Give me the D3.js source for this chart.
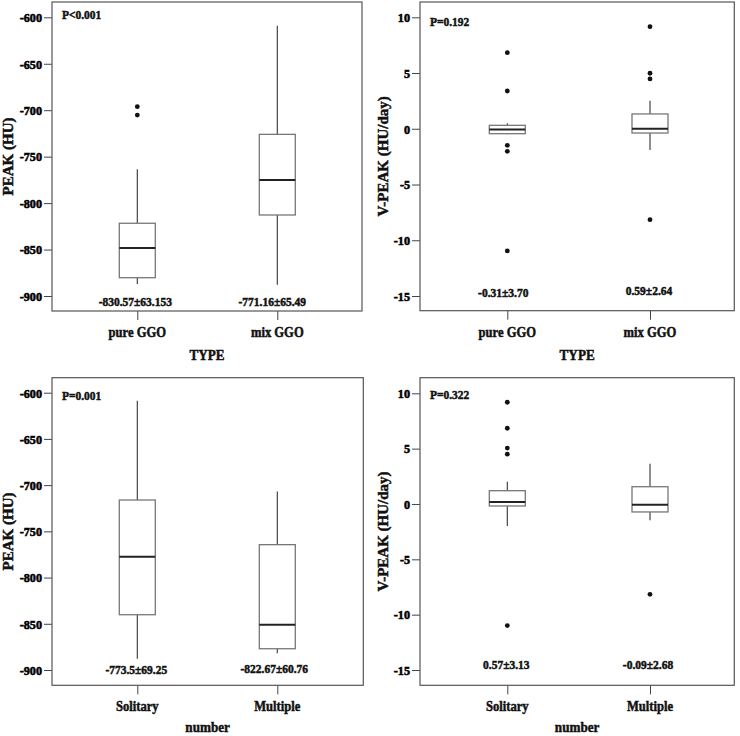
<!DOCTYPE html>
<html>
<head>
<meta charset="utf-8">
<script src="https://cdn.jsdelivr.net/npm/d3@7"></script>
<style>
  html, body { margin: 0; padding: 0; background: #fff; }
  svg text { font-family: "Liberation Serif", "Times New Roman", serif; font-weight: bold; fill: #111; stroke: #111; stroke-width: 0.5px; }
  svg .tick text { fill: #000 !important; stroke: #000; stroke-width: 0.6px; font-weight: bold; }
</style>
</head>
<body>
<svg id="chart" width="740" height="736"></svg>
<script>
// ---------- DATA ----------
const typeCategories = ["pure GGO", "mix GGO"];
const numberCategories = ["Solitary", "Multiple"];

const peakTicks = [-600, -650, -700, -750, -800, -850, -900];
const vpeakTicks = [10, 5, 0, -5, -10, -15];

// box stats: [lowWhisker, q1, median, q3, highWhisker]
const peakByTypeStats = [
  [-887, -880.3, -848.3, -821.7, -763.6],
  [-888, -812.8, -775, -726, -609]
];
const peakByTypeOutliers = [[-696.2, -705.2], []];
const peakByTypeLabels = ["-830.57±63.153", "-771.16±65.49"];

const vpeakByTypeStats = [
  [-0.5, -0.44, -0.06, 0.31, 0.49],
  [-1.9, -0.38, 0.01, 1.33, 2.52]
];
const vpeakByTypeOutliers = [[6.83, 3.39, -1.48, -2.02, -10.96], [9.16, 4.98, 4.47, -8.15]];
const vpeakByTypeLabels = ["-0.31±3.70", "0.59±2.64"];

const peakByNumberStats = [
  [-887.8, -840.2, -777.4, -716.1, -608.7],
  [-881.9, -877, -851, -764.4, -707]
];
const peakByNumberOutliers = [[], []];
const peakByNumberLabels = ["-773.5±69.25", "-822.67±60.76"];

const vpeakByNumberStats = [
  [-1.99, -0.18, 0.18, 1.2, 2.01],
  [-1.47, -0.72, -0.07, 1.56, 3.64]
];
const vpeakByNumberOutliers = [[9.19, 6.84, 5.05, 4.5, -10.99], [-8.16]];
const vpeakByNumberLabels = ["0.57±3.13", "-0.09±2.68"];

const pValues = ["P<0.001", "P=0.192", "P=0.001", "P=0.322"];

// ---------- LAYOUT ----------
const panels = [
  { ox: 0, oy: 0, fx0: 52, fx1: 362, fy0: 2, fy1: 311, yTop: 17.3, yBot: 296, c0: 137.3, c1: 277.3,
    domain: [-900, -600], ticks: peakTicks, cats: typeCategories, stats: peakByTypeStats, outl: peakByTypeOutliers,
    labels: peakByTypeLabels, p: pValues[0], yTitle: "PEAK (HU)", xTitle: "TYPE",
    pY: 19, annY: [306, 306], annDx: [-2, -5], xlabY: 336.5, xTitleY: 360, yTitleX: 13 },
  { ox: 370, oy: 0, fx0: 50, fx1: 364.3, fy0: 2, fy1: 310.7, yTop: 17.3, yBot: 296, c0: 137.3, c1: 280,
    domain: [-15, 10], ticks: vpeakTicks, cats: typeCategories, stats: vpeakByTypeStats, outl: vpeakByTypeOutliers,
    labels: vpeakByTypeLabels, p: pValues[1], yTitle: "V-PEAK (HU/day)", xTitle: "TYPE",
    pY: 26, annY: [297, 295], annDx: [-4, -1], xlabY: 336.5, xTitleY: 360, yTitleX: 18 },
  { ox: 0, oy: 366, fx0: 52, fx1: 363.3, fy0: 11.7, fy1: 319.3, yTop: 26.7, yBot: 304, c0: 137.3, c1: 277.3,
    domain: [-900, -600], ticks: peakTicks, cats: numberCategories, stats: peakByNumberStats, outl: peakByNumberOutliers,
    labels: peakByNumberLabels, p: pValues[2], yTitle: "PEAK (HU)", xTitle: "number",
    pY: 33.5, annY: [308, 306.5], annDx: [-1, -3], xlabY: 345, xTitleY: 366, yTitleX: 13 },
  { ox: 370, oy: 366, fx0: 50, fx1: 364.3, fy0: 11.7, fy1: 319.3, yTop: 27.3, yBot: 304, c0: 137.3, c1: 280,
    domain: [-15, 10], ticks: vpeakTicks, cats: numberCategories, stats: vpeakByNumberStats, outl: vpeakByNumberOutliers,
    labels: vpeakByNumberLabels, p: pValues[3], yTitle: "V-PEAK (HU/day)", xTitle: "number",
    pY: 32.5, annY: [303, 303], annDx: [-1, -2], xlabY: 345, xTitleY: 366, yTitleX: 18 }
];

const svg = d3.select("#chart");
const boxW = 36;

function addText(g, x, y, str, size, anchor, sx) {
  return g.append("text")
    .attr("transform", `translate(${x},${y}) scale(${sx},1)`)
    .attr("text-anchor", anchor).attr("font-size", size).text(str);
}

panels.forEach(P => {
  const g = svg.append("g").attr("transform", `translate(${P.ox},${P.oy})`);
  const y = d3.scaleLinear().domain(P.domain).range([P.yBot, P.yTop]);
  const x = d3.scalePoint().domain(P.cats).range([P.c0, P.c1]);

  // y axis
  const tsx = 0.9;
  const ya = g.append("g").attr("transform", `translate(${P.fx0},0)`)
    .call(d3.axisLeft(y).tickValues(P.ticks).tickSize(8).tickPadding(2).tickFormat(d => String(d)));
  ya.attr("font-family", null).attr("font-size", null).attr("fill", null);
  ya.select(".domain").remove();
  ya.selectAll(".tick line").attr("stroke", "#444");
  ya.selectAll(".tick text")
    .attr("font-size", 13.5).attr("fill", "#000")
    .attr("x", -10 / tsx).attr("transform", `scale(${tsx},1)`);

  // x axis
  const xa = g.append("g").attr("transform", `translate(0,${P.fy1})`)
    .call(d3.axisBottom(x).tickSize(9).tickFormat(() => ""));
  xa.select(".domain").remove();
  xa.selectAll(".tick line").attr("stroke", "#444");

  P.cats.forEach(c => addText(g, x(c), P.xlabY, c, 15, "middle", 0.84));

  // frame
  g.append("rect").attr("x", P.fx0).attr("y", P.fy0)
    .attr("width", P.fx1 - P.fx0).attr("height", P.fy1 - P.fy0)
    .attr("fill", "none").attr("stroke", "#555").attr("stroke-width", 1.2);

  // boxes
  P.cats.forEach((c, i) => {
    const s = P.stats[i];
    const cx = x(c);
    g.append("line").attr("x1", cx).attr("x2", cx).attr("y1", y(s[4])).attr("y2", y(s[3]))
      .attr("stroke", "#333").attr("stroke-width", 1.1);
    g.append("line").attr("x1", cx).attr("x2", cx).attr("y1", y(s[1])).attr("y2", y(s[0]))
      .attr("stroke", "#333").attr("stroke-width", 1.1);
    g.append("rect").attr("x", cx - boxW / 2).attr("y", y(s[3]))
      .attr("width", boxW).attr("height", y(s[1]) - y(s[3]))
      .attr("fill", "#fff").attr("stroke", "#777").attr("stroke-width", 1.3);
    g.append("line").attr("x1", cx - boxW / 2).attr("x2", cx + boxW / 2)
      .attr("y1", y(s[2])).attr("y2", y(s[2])).attr("stroke", "#222").attr("stroke-width", 2);
    g.selectAll(null).data(P.outl[i]).enter().append("circle")
      .attr("cx", cx).attr("cy", d => y(d)).attr("r", 2.4).attr("fill", "#111");
    addText(g, cx + P.annDx[i], P.annY[i], P.labels[i], 12.5, "middle", 0.92);
  });

  // P value
  addText(g, P.fx0 + 10, P.pY, P.p, 13, "start", 0.88);

  // titles
  addText(g, (P.fx0 + P.fx1) / 2, P.xTitleY, P.xTitle, 15.5, "middle", 0.85);
  g.append("text").attr("transform", `translate(${P.yTitleX},${(P.fy0 + P.fy1) / 2}) rotate(-90)`)
    .attr("text-anchor", "middle").attr("font-size", 15).text(P.yTitle);
});
</script>
</body>
</html>
